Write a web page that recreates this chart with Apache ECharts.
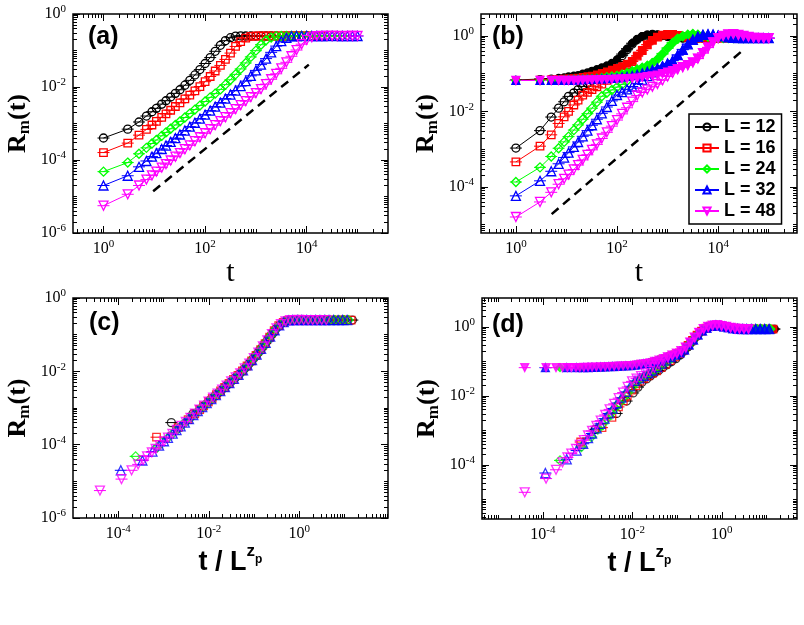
<!DOCTYPE html>
<html>
<head>
<meta charset="utf-8">
<script src="https://cdn.jsdelivr.net/npm/echarts@6.0.0/dist/echarts.min.js"></script>
<style>
  html, body { margin: 0; padding: 0; background: #fff; }
  #chart { width: 804px; height: 625px; }
</style>
</head>
<body>
<div id="chart"></div>
<script>
// sample times shared by every run
const tGrid = [1, 3, 5, 7, 9, 11, 14, 17, 21, 26, 32, 40, 50, 63, 79, 100, 126, 158, 200, 251,
  316, 398, 501, 631, 794, 1000, 1259, 1585, 1995, 2512, 3162, 3981, 5012, 6310, 7943, 10000,
  12589, 15849, 19953, 25119, 31623, 39811, 50119, 63096, 79433, 100000];
const sizeL = [12, 16, 24, 32, 48];
const zp = 2.62;

// panel (a): R_m(t), one list per L
const rmA12 = [4.0e-4, 7.0e-4, 1.1e-3, 1.6e-3, 2.1e-3, 2.6e-3, 3.4e-3, 4.2e-3, 5.3e-3, 6.7e-3, 8.4e-3,
  0.0112, 0.0152, 0.0214, 0.030, 0.044, 0.064, 0.095, 0.139, 0.186, 0.224, 0.248, 0.251,
  0.25, 0.25, 0.249, 0.25, 0.251, 0.25, 0.25, 0.249, 0.25, 0.25, 0.251, 0.25, 0.25];
const rmA16 = [1.6e-4, 2.9e-4, 4.8e-4, 6.9e-4, 9.1e-4, 1.14e-3, 1.48e-3, 1.83e-3, 2.31e-3, 2.92e-3, 3.67e-3,
  4.7e-3, 6.0e-3, 7.8e-3, 0.0103, 0.014, 0.0194, 0.0274, 0.039, 0.057, 0.085, 0.129, 0.176, 0.217, 0.245, 0.25,
  0.25, 0.251, 0.25, 0.249, 0.25, 0.25, 0.251, 0.25, 0.25, 0.249, 0.25, 0.25, 0.25];
const rmA24 = [4.8e-5, 8.5e-5, 1.48e-4, 2.15e-4, 2.83e-4, 3.53e-4, 4.6e-4, 5.7e-4, 7.2e-4, 9.1e-4, 1.14e-3,
  1.46e-3, 1.87e-3, 2.41e-3, 3.1e-3, 4.0e-3, 5.2e-3, 6.6e-3, 8.6e-3, 0.0116, 0.0158, 0.0222, 0.0313, 0.0456,
  0.0667, 0.099, 0.144, 0.191, 0.227, 0.248,
  0.25, 0.251, 0.25, 0.25, 0.249, 0.25, 0.25, 0.251, 0.25, 0.25, 0.249, 0.25, 0.25];
const rmA32 = [2.0e-5, 3.7e-5, 6.5e-5, 9.4e-5, 1.24e-4, 1.54e-4, 2.0e-4, 2.49e-4, 3.14e-4, 3.97e-4, 5.0e-4,
  6.4e-4, 8.2e-4, 1.05e-3, 1.36e-3, 1.75e-3, 2.25e-3, 2.9e-3, 3.74e-3, 4.8e-3, 6.2e-3, 8.0e-3, 0.0106, 0.0145,
  0.0202, 0.0285, 0.0411, 0.060, 0.089, 0.132, 0.180, 0.221, 0.245, 0.25,
  0.25, 0.251, 0.25, 0.249, 0.25, 0.25, 0.251, 0.25, 0.25, 0.249, 0.25, 0.25];
const rmA48 = [5.6e-6, 1.15e-5, 2.0e-5, 2.9e-5, 3.8e-5, 4.8e-5, 6.2e-5, 7.7e-5, 9.7e-5, 1.23e-4, 1.55e-4,
  1.98e-4, 2.53e-4, 3.27e-4, 4.2e-4, 5.4e-4, 7.0e-4, 9.0e-4, 1.16e-3, 1.49e-3, 1.92e-3, 2.48e-3, 3.19e-3,
  4.1e-3, 5.3e-3, 6.8e-3, 8.8e-3, 0.012, 0.0163, 0.023, 0.0325, 0.0475, 0.0695, 0.103, 0.149, 0.195, 0.23,
  0.248, 0.25, 0.251, 0.25, 0.25, 0.249, 0.25, 0.25, 0.25];

// panel (b): upper branch (filled symbols) and lower branch (open symbols)
const rmB12up = [0.068, 0.072, 0.074, 0.077, 0.080, 0.084, 0.088, 0.091, 0.0995, 0.108, 0.119, 0.131, 0.147,
  0.165, 0.192, 0.237, 0.33, 0.46, 0.64, 0.83, 0.99, 1.08, 1.11, 1.08, 1.02, 0.96, 0.91, 0.88,
  0.87, 0.87, 0.87, 0.87, 0.87, 0.87, 0.87, 0.87];
const rmB12lo = [1.07e-3, 3.1e-3, 7.1e-3, 0.0122, 0.018, 0.025, 0.031, 0.038, 0.046, 0.055, 0.066, 0.080,
  0.098, 0.12, 0.155, 0.21, 0.30, 0.43, 0.61, 0.80, 0.96, 1.05, 1.09, 1.07, 1.02, 0.96, 0.91, 0.88,
  0.87, 0.87, 0.87, 0.87, 0.87, 0.87, 0.87, 0.87];
const rmB16up = [0.066, 0.069, 0.071, 0.073, 0.074, 0.075, 0.076, 0.0785, 0.082, 0.0855, 0.089, 0.095, 0.104,
  0.115, 0.127, 0.142, 0.159, 0.183, 0.217, 0.30, 0.42, 0.59, 0.77, 0.94, 1.06, 1.10, 1.09, 1.03, 0.975,
  0.92, 0.89, 0.87, 0.87, 0.87, 0.87, 0.87, 0.87, 0.87, 0.87];
const rmB16lo = [4.6e-4, 1.2e-3, 2.4e-3, 4.8e-3, 7.2e-3, 0.010, 0.0148, 0.020, 0.027, 0.032, 0.038, 0.045,
  0.053, 0.066, 0.082, 0.105, 0.135, 0.17, 0.21, 0.29, 0.41, 0.58, 0.76, 0.93, 1.05, 1.09, 1.09, 1.03, 0.975,
  0.92, 0.89, 0.87, 0.87, 0.87, 0.87, 0.87, 0.87, 0.87, 0.87];
const rmB24up = [0.066, 0.066, 0.067, 0.068, 0.069, 0.070, 0.071, 0.072, 0.073, 0.074, 0.0747, 0.0757, 0.079,
  0.0826, 0.0865, 0.0905, 0.0986, 0.108, 0.120, 0.133, 0.149, 0.167, 0.196, 0.245, 0.344, 0.48, 0.66, 0.855,
  0.99, 1.08, 1.12, 1.07, 1.01, 0.953, 0.90, 0.88, 0.87, 0.87, 0.87, 0.87, 0.87, 0.87, 0.87];
const rmB24lo = [1.35e-4, 3.3e-4, 6.4e-4, 1.06e-3, 1.56e-3, 2.15e-3, 3.2e-3, 4.4e-3, 6.2e-3, 8.7e-3, 0.0122,
  0.0176, 0.0252, 0.0311, 0.037, 0.044, 0.052, 0.065, 0.082, 0.10, 0.125, 0.155, 0.19, 0.24, 0.33, 0.47, 0.65,
  0.84, 0.98, 1.08, 1.12, 1.07, 1.01, 0.953, 0.90, 0.88, 0.87, 0.87, 0.87, 0.87, 0.87, 0.87, 0.87];
const rmB32up = [0.066, 0.066, 0.066, 0.066, 0.0665, 0.067, 0.068, 0.0687, 0.0697, 0.0705, 0.0714, 0.0724,
  0.0733, 0.0743, 0.0753, 0.0778, 0.0815, 0.0853, 0.0893, 0.096, 0.105, 0.116, 0.129, 0.144, 0.161, 0.187,
  0.224, 0.314, 0.44, 0.61, 0.80, 0.955, 1.07, 1.11, 1.09, 1.03, 0.97, 0.91, 0.885,
  0.87, 0.87, 0.87, 0.87, 0.87, 0.87, 0.87];
const rmB32lo = [5.8e-5, 1.45e-4, 2.6e-4, 4.1e-4, 6.0e-4, 8.1e-4, 1.15e-3, 1.55e-3, 2.19e-3, 3.1e-3, 4.3e-3,
  6.2e-3, 8.9e-3, 0.0131, 0.019, 0.0272, 0.0324, 0.0385, 0.0457, 0.0546, 0.0687, 0.0865, 0.108, 0.133, 0.158,
  0.185, 0.22, 0.31, 0.43, 0.60, 0.79, 0.95, 1.07, 1.11, 1.09, 1.03, 0.97, 0.91, 0.885,
  0.87, 0.87, 0.87, 0.87, 0.87, 0.87, 0.87];
const rmB48up = [0.066, 0.066, 0.066, 0.066, 0.066, 0.066, 0.066, 0.0665, 0.067, 0.0675, 0.068, 0.0685, 0.069,
  0.0697, 0.0707, 0.0718, 0.0727, 0.0737, 0.0747, 0.0758, 0.0793, 0.083, 0.0869, 0.091, 0.0995, 0.109, 0.121,
  0.134, 0.150, 0.169, 0.20, 0.255, 0.357, 0.50, 0.68, 0.88, 1.0, 1.09, 1.12, 1.06, 1.0, 0.946, 0.89, 0.88,
  0.87, 0.87];
const rmB48lo = [1.6e-5, 4.0e-5, 7.2e-5, 1.18e-4, 1.64e-4, 2.12e-4, 2.9e-4, 3.8e-4, 5.2e-4, 7.1e-4, 9.6e-4,
  1.34e-3, 1.92e-3, 2.8e-3, 4.07e-3, 5.9e-3, 8.6e-3, 0.0125, 0.0182, 0.0264, 0.0317, 0.0377, 0.0448, 0.0532,
  0.0668, 0.084, 0.105, 0.130, 0.148, 0.167, 0.198, 0.25, 0.35, 0.49, 0.67, 0.87, 1.0, 1.09, 1.12, 1.06, 1.0,
  0.946, 0.89, 0.88, 0.87, 0.87];

// dashed guide lines (t, R end points)
const guideAt = [9.5, 11000];
const guideAr = [1.4e-5, 0.041];
const guideBt = [5.1, 31000];
const guideBr = [1.9e-5, 0.42];

const rmA = [rmA12, rmA16, rmA24, rmA32, rmA48];
const rmBup = [rmB12up, rmB16up, rmB24up, rmB32up, rmB48up];
const rmBlo = [rmB12lo, rmB16lo, rmB24lo, rmB32lo, rmB48lo];

const colors = ['#000000', '#ff0000', '#00ff00', '#0000ff', '#ff00ff'];
const symbols = ['circle', 'rect', 'diamond', 'triangle', 'triangle'];
const symRot = [0, 0, 0, 0, 180];
const symSize = [8, 7.5, 9, 9, 9];
const serif = '"Liberation Serif", "Times New Roman", serif';
const sans = '"Liberation Sans", Arial, sans-serif';

// log10 ranges of each panel and labelled decades
const panels = [
  { grid: { left: 73, top: 14, width: 315, height: 219 }, x: [-0.6, 5.6], y: [-6, 0], xLab: [0, 2, 4], yLab: [0, -2, -4, -6] },
  { grid: { left: 481, top: 14, width: 316, height: 219 }, x: [-0.69, 5.56], y: [-5.22, 0.58], xLab: [0, 2, 4], yLab: [0, -2, -4] },
  { grid: { left: 73, top: 298, width: 315, height: 220 }, x: [-5, 1.96], y: [-6, 0], xLab: [-4, -2, 0], yLab: [0, -2, -4, -6] },
  { grid: { left: 482, top: 298, width: 315, height: 221 }, x: [-5.36, 1.68], y: [-5.57, 0.84], xLab: [-4, -2, 0], yLab: [0, -2, -4] }
];

function minorTicks(lo, hi, labeled) {
  const out = [];
  for (let d = Math.floor(lo); d <= Math.ceil(hi); d++) {
    if (d > lo && d < hi && labeled.indexOf(d) < 0) out.push(d);
    for (let k = 2; k <= 9; k++) {
      const v = d + Math.log10(k);
      if (v > lo && v < hi) out.push(v);
    }
  }
  return out;
}

const tickRich = {
  b: { fontFamily: serif, fontSize: 16, lineHeight: 20, color: '#000' },
  e: { fontFamily: serif, fontSize: 11, lineHeight: 11, verticalAlign: 'top', color: '#000' }
};
const tickFmt = v => '{b|10}{e|' + Math.round(v) + '}';

const xAxes = [], yAxes = [];
panels.forEach((P, p) => {
  const common = {
    type: 'value', gridIndex: p, axisLine: { show: false, onZero: false },
    splitLine: { show: false }, axisLabel: { show: false }
  };
  const tick = (vals, len) => ({ show: true, inside: true, length: len, customValues: vals, lineStyle: { color: '#000', width: 1 } });
  const xMin = minorTicks(P.x[0], P.x[1], P.xLab);
  const yMin = minorTicks(P.y[0], P.y[1], P.yLab);
  const bottom = Object.assign({}, common, {
    min: P.x[0], max: P.x[1], position: 'bottom', axisTick: tick(P.xLab, 7),
    axisLabel: { show: true, customValues: P.xLab, formatter: tickFmt, rich: tickRich, margin: 6, showMinLabel: true, showMaxLabel: true }
  });
  if (p < 2) {
    bottom.name = 't';
    bottom.nameLocation = 'middle';
    bottom.nameGap = 24;
    bottom.nameTextStyle = { fontFamily: serif, fontSize: 30, color: '#000' };
  } else {
    bottom.name = '{a|t / L}{z|z}{p|p}';
    bottom.nameLocation = 'middle';
    bottom.nameGap = 23;
    bottom.nameTextStyle = {
      rich: {
        a: { fontFamily: sans, fontWeight: 'bold', fontSize: 27, lineHeight: 40, color: '#000' },
        z: { fontFamily: sans, fontWeight: 'bold', fontSize: 17, verticalAlign: 'top', color: '#000' },
        p: { fontFamily: sans, fontWeight: 'bold', fontSize: 12, verticalAlign: 'top', padding: [11, 0, 0, 0], color: '#000' }
      }
    };
  }
  xAxes.push(bottom);
  xAxes.push(Object.assign({}, common, { min: P.x[0], max: P.x[1], position: 'bottom', axisTick: tick(xMin, 4) }));
  xAxes.push(Object.assign({}, common, { min: P.x[0], max: P.x[1], position: 'top', axisTick: tick(P.xLab, 7) }));
  xAxes.push(Object.assign({}, common, { min: P.x[0], max: P.x[1], position: 'top', axisTick: tick(xMin, 4) }));

  const left = Object.assign({}, common, {
    min: P.y[0], max: P.y[1], position: 'left', axisTick: tick(P.yLab, 7),
    axisLabel: { show: true, customValues: P.yLab, formatter: tickFmt, rich: tickRich, margin: 7, showMinLabel: true, showMaxLabel: true },
    name: '{r|R}{s|m}{r|(t)}', nameLocation: 'middle', nameRotate: 90, nameGap: 40,
    nameTextStyle: {
      rich: {
        r: { fontFamily: serif, fontWeight: 'bold', fontSize: 26, lineHeight: 30, color: '#000' },
        s: { fontFamily: serif, fontWeight: 'bold', fontSize: 17, lineHeight: 16, verticalAlign: 'bottom', color: '#000' }
      }
    }
  });
  yAxes.push(left);
  yAxes.push(Object.assign({}, common, { min: P.y[0], max: P.y[1], position: 'left', axisTick: tick(yMin, 4) }));
  yAxes.push(Object.assign({}, common, { min: P.y[0], max: P.y[1], position: 'right', axisTick: tick(P.yLab, 7) }));
  yAxes.push(Object.assign({}, common, { min: P.y[0], max: P.y[1], position: 'right', axisTick: tick(yMin, 4) }));
});

function toPoints(vals, L, scaled) {
  return vals.map((r, i) => [Math.log10(scaled ? tGrid[i] / Math.pow(L, zp) : tGrid[i]), Math.log10(r)]);
}

function markSeries(type, p, data, k, filled, name) {
  const col = colors[k];
  const s = {
    type: type, name: name, data: data, xAxisIndex: p * 4, yAxisIndex: p * 4,
    symbol: symbols[k], symbolRotate: symRot[k], symbolSize: filled ? symSize[k] - 1 : symSize[k],
    itemStyle: { color: filled ? col : 'rgba(255,255,255,0)', borderColor: col, borderWidth: 1.3 },
    emphasis: { disabled: true }, silent: true, z: 3
  };
  if (type === 'line') {
    s.lineStyle = { color: col, width: 1 };
    s.showSymbol = true;
  }
  return s;
}

function capSeries(p, data, k) {
  const col = colors[k];
  return {
    type: 'custom', xAxisIndex: p * 4, yAxisIndex: p * 4, data: data, silent: true, z: 2,
    renderItem: (params, api) => {
      const c = api.coord([api.value(0), api.value(1)]);
      return { type: 'line', shape: { x1: c[0] - 6, y1: c[1], x2: c[0] + 6, y2: c[1] }, style: { stroke: col, lineWidth: 1 } };
    }
  };
}

const series = [];
sizeL.forEach((L, k) => {
  const name = 'L = ' + L;
  // (a) and (c)
  const a = toPoints(rmA[k], L, false);
  const c = toPoints(rmA[k], L, true);
  series.push(capSeries(0, a, k), markSeries('line', 0, a, k, false, name));
  series.push(capSeries(2, c, k), markSeries('scatter', 2, c, k, false, name + ' c'));
  // (b) and (d)
  const bu = toPoints(rmBup[k], L, false);
  const bl = toPoints(rmBlo[k], L, false);
  const du = toPoints(rmBup[k], L, true);
  const dl = toPoints(rmBlo[k], L, true);
  series.push(capSeries(1, bu, k), markSeries('line', 1, bu, k, true, name + ' up'));
  series.push(capSeries(1, bl, k), markSeries('line', 1, bl, k, false, name));
  series.push(capSeries(3, du, k), markSeries('scatter', 3, du, k, true, name + ' dup'));
  series.push(capSeries(3, dl, k), markSeries('scatter', 3, dl, k, false, name + ' dlo'));
});

function guide(p, ts, rs) {
  return {
    type: 'line', xAxisIndex: p * 4, yAxisIndex: p * 4, silent: true, symbol: 'none', z: 4,
    data: ts.map((t, i) => [Math.log10(t), Math.log10(rs[i])]),
    lineStyle: { color: '#000', width: 2.5, type: [9, 6] }
  };
}
series.push(guide(0, guideAt, guideAr), guide(1, guideBt, guideBr));

const labels = [['(a)', 88, 25], ['(b)', 492, 25], ['(c)', 89, 311], ['(d)', 492, 313]];

const chart = echarts.init(document.getElementById('chart'), null, { renderer: 'canvas' });
chart.setOption({
  animation: false,
  backgroundColor: '#fff',
  grid: panels.map(P => Object.assign({
    show: true, borderColor: '#000', borderWidth: 1.5, backgroundColor: 'rgba(0,0,0,0)',
    containLabel: false, outerBoundsMode: 'none'
  }, P.grid)),
  xAxis: xAxes,
  yAxis: yAxes,
  legend: {
    data: sizeL.map(L => 'L = ' + L),
    orient: 'vertical', left: 689, top: 114,
    itemWidth: 24, itemHeight: 9, itemGap: 1,
    padding: [3, 6, 3, 5],
    backgroundColor: '#fff', borderColor: '#000', borderWidth: 1.5, borderRadius: 0,
    selectedMode: false,
    textStyle: { fontFamily: sans, fontWeight: 'bold', fontSize: 18, lineHeight: 20, color: '#000' }
  },
  graphic: labels.map(l => ({
    type: 'text', left: l[1], top: l[2], z: 10,
    style: { text: l[0], font: 'bold 25px ' + sans, fill: '#000' }
  })),
  series: series
});
</script>
</body>
</html>
